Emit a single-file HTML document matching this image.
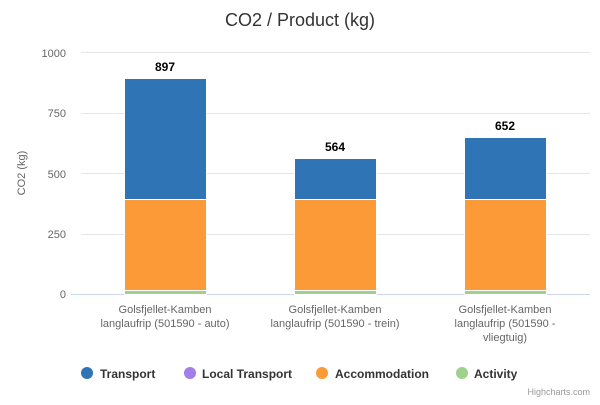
<!DOCTYPE html>
<html><head><style>
body{margin:0;background:#fff;}
svg{font-family:"Liberation Sans","DejaVu Sans",sans-serif;}
</style></head><body>
<svg width="600" height="400" xmlns="http://www.w3.org/2000/svg">
<rect width="600" height="400" fill="#fff"/>
<text x="300" y="26" text-anchor="middle" font-size="18" fill="#333">CO2 / Product (kg)</text>
<g stroke="#e6e6e6" stroke-width="1">
<line x1="81" y1="52.5" x2="590" y2="52.5"/>
<line x1="81" y1="113.5" x2="590" y2="113.5"/>
<line x1="81" y1="173.5" x2="590" y2="173.5"/>
<line x1="81" y1="234.5" x2="590" y2="234.5"/>
</g>
<line x1="71" y1="294.5" x2="590" y2="294.5" stroke="#ccd6eb"/>
<g font-size="11" fill="#666" text-anchor="end">
<text x="66" y="57">1000</text>
<text x="66" y="117">750</text>
<text x="66" y="178">500</text>
<text x="66" y="238">250</text>
<text x="66" y="298">0</text>
</g>
<text transform="translate(25,173) rotate(-90)" text-anchor="middle" font-size="11" fill="#666">CO2 (kg)</text>
<g stroke="#fff" stroke-width="1">
<rect x="124.5" y="78.5" width="82" height="121" fill="#2f75b5"/>
<rect x="124.5" y="199.5" width="82" height="91" fill="#fd9a38"/>
<rect x="124.5" y="290.5" width="82" height="4" fill="#9fd08c"/>
<rect x="294.5" y="158.5" width="82" height="41" fill="#2f75b5"/>
<rect x="294.5" y="199.5" width="82" height="91" fill="#fd9a38"/>
<rect x="294.5" y="290.5" width="82" height="4" fill="#9fd08c"/>
<rect x="464.5" y="137.5" width="82" height="62" fill="#2f75b5"/>
<rect x="464.5" y="199.5" width="82" height="91" fill="#fd9a38"/>
<rect x="464.5" y="290.5" width="82" height="4" fill="#9fd08c"/>
</g>
<g font-size="12" font-weight="bold" fill="#000" text-anchor="middle">
<text x="165" y="71">897</text>
<text x="335" y="151">564</text>
<text x="505" y="130">652</text>
</g>
<g font-size="11" fill="#666" text-anchor="middle">
<text x="165" y="313">Golsfjellet-Kamben</text>
<text x="165" y="327">langlaufrip (501590 - auto)</text>
<text x="335" y="313">Golsfjellet-Kamben</text>
<text x="335" y="327">langlaufrip (501590 - trein)</text>
<text x="505" y="313">Golsfjellet-Kamben</text>
<text x="505" y="327">langlaufrip (501590 -</text>
<text x="505" y="341">vliegtuig)</text>
</g>
<g font-size="12" font-weight="bold" fill="#333">
<circle cx="87" cy="373" r="6" fill="#2f75b5"/><text x="100" y="378">Transport</text>
<circle cx="190" cy="373" r="6" fill="#a17ee8"/><text x="202" y="378">Local Transport</text>
<circle cx="322" cy="373" r="6" fill="#fd9a38"/><text x="335" y="378">Accommodation</text>
<circle cx="462" cy="373" r="6" fill="#9fd08c"/><text x="474" y="378">Activity</text>
</g>
<text x="590" y="395" text-anchor="end" font-size="9" fill="#999">Highcharts.com</text>
</svg>
</body></html>
